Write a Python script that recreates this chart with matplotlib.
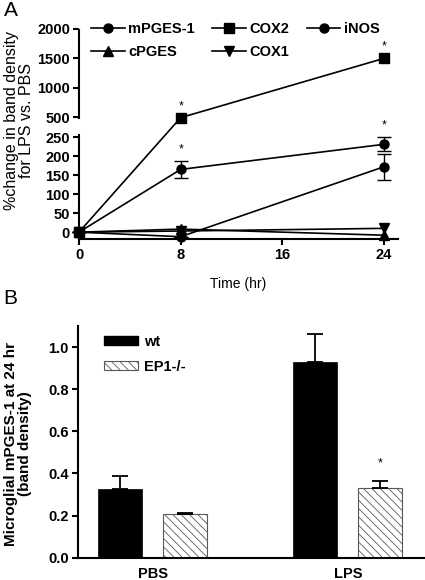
import numpy as np
import matplotlib
matplotlib.use('Agg')
import matplotlib.pyplot as plt
from matplotlib.patches import Patch

plt.rcParams['font.family'] = ['Liberation Sans', 'DejaVu Sans']
plt.rcParams['font.weight'] = 'bold'
plt.rcParams['hatch.linewidth'] = 0.6

# ---- panel A data (time course) ----
hours = [0, 8, 24]
mpges1 = [0, 165, 231]
mpges1_err = [0, 22, 18]
cox2 = [0, 490, 1500]
inos = [0, -12, 172]
inos_err = [0, 0, 34]
cpges = [0, 8, -8]
cox1 = [0, 3, 10]

# ---- panel B data (bars) ----
groups = ['PBS', 'LPS']
wt = [0.326, 0.930]
wt_err = [0.06, 0.13]
ep1 = [0.207, 0.330]
ep1_err = [0.003, 0.032]

# broken y axis for panel A as a piecewise linear scale
lo_top, hi_bot, gap, r = 255, 470, 43, 0.1544
xp = [-1000, lo_top, hi_bot, 3000]
fp = [-1000, lo_top, lo_top + gap, lo_top + gap + (3000 - hi_bot) * r]

def fwd(y):
    return np.interp(y, xp, fp)

def inv(y):
    return np.interp(y, fp, xp)

W, H = 425, 580
fig = plt.figure(figsize=(W / 100, H / 100), dpi=100)

spine_lw = 1.5
line_lw = 1.2

# ================= panel A =================
axA = fig.add_axes([79 / W, 1 - 239 / H, (398 - 79) / W, (239 - 29) / H])
axA.set_yscale('function', functions=(fwd, inv))
axA.set_xlim(0, 25.1)
axA.set_ylim(-18, 2000)

kw = dict(color='black', lw=line_lw, clip_on=False, zorder=3)
l1 = axA.errorbar(hours, mpges1, yerr=mpges1_err, marker='o', ms=6.5,
                  capsize=5, elinewidth=1, capthick=1, **kw)
l2, = axA.plot(hours, cox2, marker='s', ms=6.5, **kw)
l3 = axA.errorbar(hours, inos, yerr=inos_err, marker='o', ms=6.5,
                  capsize=5, elinewidth=1, capthick=1, **kw)
l4, = axA.plot(hours, cpges, marker='^', ms=6.5, **kw)
l5, = axA.plot(hours, cox1, marker='v', ms=6.5, **kw)

# significance stars
stars = [(8, cox2[1]), (24, cox2[2]),
         (8, mpges1[1] + mpges1_err[1]), (24, mpges1[2] + mpges1_err[2])]
for sx, sy in stars:
    axA.annotate('*', (sx, sy), xytext=(0, 4), textcoords='offset points',
                 ha='center', va='bottom', fontsize=9, fontweight='normal')

for s in ['top', 'right']:
    axA.spines[s].set_visible(False)
axA.spines['left'].set_bounds(-18, lo_top)
axA.spines['left'].set_linewidth(spine_lw)
axA.spines['bottom'].set_linewidth(spine_lw)
axA.plot([0, 0], [hi_bot, 2000], transform=axA.get_yaxis_transform(),
         color='black', lw=spine_lw, clip_on=False, solid_capstyle='butt')

axA.set_yticks([0, 50, 100, 150, 200, 250, 500, 1000, 1500, 2000])
axA.set_yticklabels(['0', '50', '100', '150', '200', '250', '500', '1000', '1500', '2000'])
axA.set_xticks([0, 8, 16, 24])
axA.tick_params(width=spine_lw, length=4.5, labelsize=10.5, pad=2)
axA.set_xlabel('Time (hr)', fontsize=10, labelpad=11)

fig.text(19 / W, 1 - 121 / H, '%change in band density\nfor LPS vs. PBS',
         rotation=90, ha='center', va='center', fontsize=11.5,
         fontweight='normal', linespacing=1.05)

fig.legend([l1[0], l4, l2, l5, l3[0]], ['mPGES-1', 'cPGES', 'COX2', 'COX1', 'iNOS'],
           ncol=3, loc='upper left', bbox_to_anchor=(91 / W, 1 - 22 / H),
           frameon=False, fontsize=10.5, handlelength=2.3, handletextpad=0.25,
           columnspacing=1.2, labelspacing=0.65, borderpad=0, borderaxespad=0)

# ================= panel B =================
axB = fig.add_axes([78 / W, 1 - 557.7 / H, (424 - 78) / W, (557.7 - 326) / H])
x = np.arange(len(groups))
bw = 0.2256
off = 0.1667
axB.bar(x - off, wt, bw, color='black', edgecolor='black', lw=0.5,
        yerr=[[0, 0], wt_err], capsize=6,
        error_kw=dict(elinewidth=1.3, capthick=1.3, ecolor='black'))
axB.bar(x + off, ep1, bw, color='white', edgecolor='0.35', lw=0.8,
        hatch='\\\\\\\\', yerr=[[0, 0], ep1_err], capsize=6,
        error_kw=dict(elinewidth=1.3, capthick=1.3, ecolor='black'))
axB.annotate('*', (x[1] + off, ep1[1] + ep1_err[1]), xytext=(0, 9),
             textcoords='offset points', ha='center', va='bottom',
             fontsize=9, fontweight='normal')

axB.set_xlim(-0.382, 1.39)
axB.set_ylim(0, 1.1)
axB.set_yticks([0, 0.2, 0.4, 0.6, 0.8, 1.0])
axB.set_yticklabels(['0.0', '0.2', '0.4', '0.6', '0.8', '1.0'])
axB.set_xticks(x)
axB.set_xticklabels(groups)
for s in ['top', 'right']:
    axB.spines[s].set_visible(False)
axB.spines['left'].set_linewidth(spine_lw)
axB.spines['bottom'].set_linewidth(spine_lw)
axB.tick_params(axis='y', width=spine_lw, length=4.5, labelsize=10.5, pad=2)
axB.tick_params(axis='x', length=0, labelsize=10.5, pad=7)

fig.text(18 / W, 1 - 444 / H, 'Microglial mPGES-1 at 24 hr\n(band density)',
         rotation=90, ha='center', va='center', fontsize=11, linespacing=1.05)

axB.legend([Patch(facecolor='black', edgecolor='black'),
            Patch(facecolor='white', edgecolor='0.35', hatch='\\\\\\\\', lw=0.8)],
           ['wt', 'EP1-/-'], loc='upper left',
           bbox_to_anchor=(104 / W, 1 - 335 / H), bbox_transform=fig.transFigure,
           frameon=False, fontsize=10.5, handlelength=2.3, handleheight=0.6,
           handletextpad=0.45, labelspacing=0.75, borderpad=0, borderaxespad=0)

fig.text(4 / W, 1 - 1 / H, 'A', ha='left', va='top', fontsize=15, fontweight='normal')
fig.text(3 / W, 1 - 289 / H, 'B', ha='left', va='top', fontsize=15, fontweight='normal')

fig.savefig('out.png', dpi=100)
